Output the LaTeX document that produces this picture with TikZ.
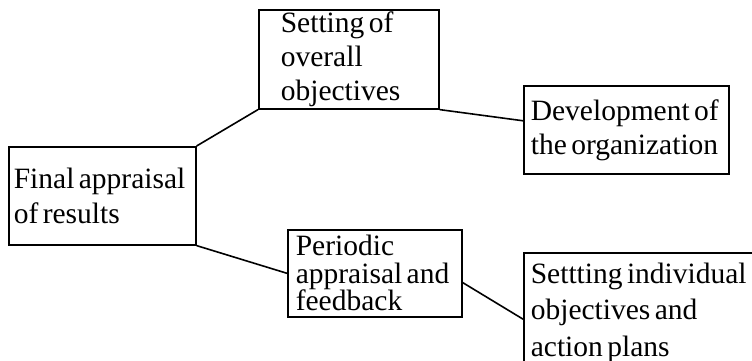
\documentclass[tikz,border=0pt]{standalone}
\usepackage{fontspec}
\setmainfont[WordSpace=0.6]{Liberation Serif}
\begin{document}
\begin{tikzpicture}[x=1pt,y=-1pt,
    box/.style={draw,line width=1.6pt,rectangle,anchor=north west,align=flush left,inner ysep=1pt,font=\fontsize{29.5}{34}\selectfont}]
      \useasboundingbox (0,0) rectangle (752,360);
      \clip (0,0) rectangle (752,360);
      \draw
        (8,146) node[box,text width=177pt,minimum height=98pt,inner xsep=5pt,font=\fontsize{29.5}{35}\selectfont] (final){Final appraisal\\of results}
        (258,9) node[box,text width=136pt,minimum height=99pt,inner xsep=22pt] (overall){Setting of\\overall\\objectives}
        (523,85) node[box,text width=191pt,minimum height=88pt,inner xsep=7pt] (develop){Development of\\the organization}
        (287,229) node[box,text width=158pt,minimum height=87pt,inner xsep=8pt,font=\fontsize{29.5}{27.5}\selectfont] (periodic){Periodic\\appraisal and\\feedback}
        (523,252) node[box,text width=226pt,minimum height=120pt,inner xsep=7pt,font=\fontsize{29.5}{36.5}\selectfont] (individual){Settting individual\\objectives and\\action plans};
      \begin{scope}[-,line width=1.6pt]
        \draw (final.north east) to (overall.south west);
        \draw (final.south east) to (periodic.west);
        \draw (overall.south east) to (develop.175);
        \draw (periodic.-6) to (individual.183);
      \end{scope}
    \end{tikzpicture}
\end{document}
